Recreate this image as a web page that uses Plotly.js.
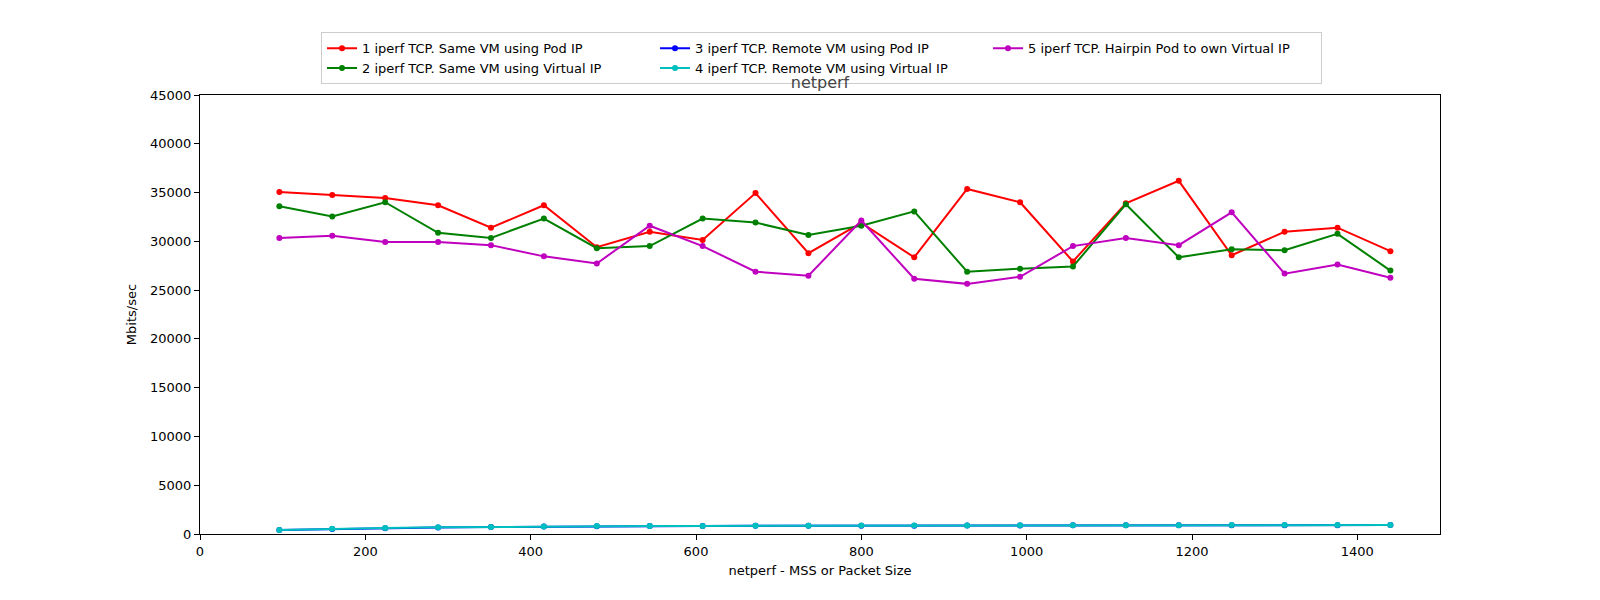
<!DOCTYPE html>
<html>
<head>
<meta charset="utf-8">
<script src="https://cdn.plot.ly/plotly-3.0.1.min.js"></script>
<style>
    body { margin: 0; background: #ffffff; }
    #chart { width: 1600px; height: 600px; }
</style>
</head>
<body>
<div id="chart"></div>
<script>
// MSS / packet sizes on the x axis
const packetSizes = [96, 160, 224, 288, 352, 416, 480, 544, 608, 672, 736,
    800, 864, 928, 992, 1056, 1120, 1184, 1248, 1312, 1376, 1440];

// Mbits/sec per test
const sameVmPodIp = [35050, 34740, 34430, 33700, 31400, 33700, 29400, 30980, 30140, 34950, 28780,
    31900, 28360, 35370, 34010, 27940, 33900, 36200, 28570, 30980, 31400, 28990];
const sameVmVirtualIp = [33590, 32550, 34010, 30870, 30350, 32340, 29300, 29510, 32340, 31920, 30660,
    31600, 33070, 26890, 27200, 27420, 33800, 28360, 29200, 29090, 30770, 27000];
const remoteVmPodIp = [410, 510, 600, 660, 720, 760, 800, 810, 820, 835, 845,
    855, 855, 865, 880, 890, 890, 895, 900, 900, 905, 915];
const remoteVmVirtualIp = [420, 540, 620, 680, 730, 770, 810, 820, 830, 840, 850,
    860, 860, 870, 890, 900, 900, 900, 910, 910, 910, 920];
const hairpinVirtualIp = [30350, 30560, 29930, 29930, 29610, 28460, 27730, 31600, 29510, 26890, 26480,
    32130, 26160, 25640, 26370, 29510, 30350, 29610, 32970, 26690, 27630, 26270];

const seriesNames = [
    "1 iperf TCP. Same VM using Pod IP",
    "2 iperf TCP. Same VM using Virtual IP",
    "3 iperf TCP. Remote VM using Pod IP",
    "4 iperf TCP. Remote VM using Virtual IP",
    "5 iperf TCP. Hairpin Pod to own Virtual IP"
];
const seriesValues = [sameVmPodIp, sameVmVirtualIp, remoteVmPodIp, remoteVmVirtualIp, hairpinVirtualIp];
const seriesColors = ['#ff0000', '#008000', '#0000ff', '#00bfbf', '#bf00bf'];
// legend is filled column by column, like matplotlib's ncol=3
const legendRanks = [1, 4, 2, 5, 3];

const xTicks = [0, 200, 400, 600, 800, 1000, 1200, 1400];
const yTicks = [0, 5000, 10000, 15000, 20000, 25000, 30000, 35000, 40000, 45000];

const data = [];
for (let i = 0; i < seriesNames.length; i++) {
    data.push({
        x: packetSizes,
        y: seriesValues[i],
        name: seriesNames[i],
        type: 'scatter',
        mode: 'lines+markers',
        line: { color: seriesColors[i], width: 2 },
        marker: { color: seriesColors[i], size: 6 },
        legendrank: legendRanks[i]
    });
}

const axisStyle = {
    showgrid: false,
    zeroline: false,
    showline: true,
    mirror: true,
    linecolor: '#000000',
    linewidth: 1,
    ticks: 'outside',
    ticklen: 5,
    tickwidth: 1,
    tickcolor: '#000000',
    tickmode: 'array',
    tickformat: 'd',
    tickfont: { family: 'DejaVu Sans', size: 13, color: '#000000' }
};

const layout = {
    width: 1600,
    height: 600,
    margin: { l: 200, r: 160, t: 95, b: 66 },
    paper_bgcolor: '#ffffff',
    plot_bgcolor: '#ffffff',
    font: { family: 'DejaVu Sans', size: 13, color: '#000000' },
    title: {
        text: 'netperf',
        x: 0.5125,
        xanchor: 'center',
        y: 0.863,
        yanchor: 'middle',
        font: { family: 'DejaVu Sans', size: 16, color: '#444444' }
    },
    xaxis: Object.assign({}, axisStyle, {
        range: [0, 1500],
        tickvals: xTicks,
        title: { text: 'netperf - MSS or Packet Size', standoff: 8,
            font: { family: 'DejaVu Sans', size: 13, color: '#000000' } }
    }),
    yaxis: Object.assign({}, axisStyle, {
        range: [0, 45000],
        tickvals: yTicks,
        title: { text: 'Mbits/sec', standoff: 10,
            font: { family: 'DejaVu Sans', size: 13, color: '#000000' } }
    }),
    showlegend: true,
    legend: {
        orientation: 'h',
        x: 0.0976,
        xanchor: 'left',
        y: 1.143,
        yanchor: 'top',
        entrywidth: 288,
        tracegroupgap: 0,
        bgcolor: 'rgba(255,255,255,0.8)',
        bordercolor: '#cccccc',
        borderwidth: 1,
        font: { family: 'DejaVu Sans', size: 13, color: '#000000' }
    }
};

Plotly.newPlot('chart', data, layout, { displayModeBar: false, staticPlot: true });
</script>
</body>
</html>
